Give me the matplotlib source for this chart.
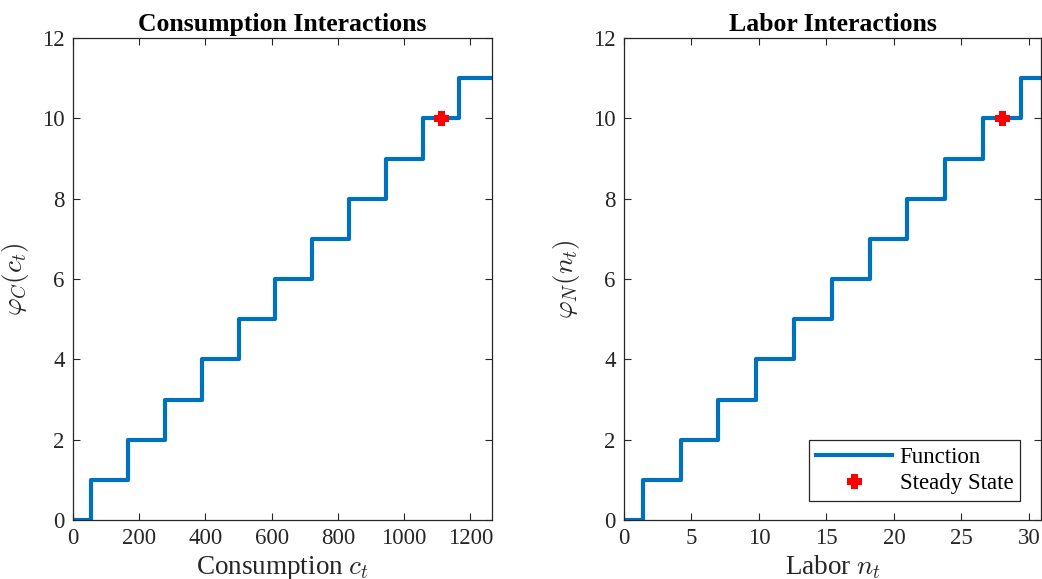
import matplotlib
matplotlib.use("Agg")
import matplotlib.pyplot as plt
import numpy as np

# Data: step thresholds and levels
cons_breaks = [0, 55.6, 166.7, 277.8, 388.9, 500.0, 611.1, 722.2, 833.3, 944.4, 1055.6, 1166.7, 1265]
cons_levels = [0, 1, 2, 3, 4, 5, 6, 7, 8, 9, 10, 11, 11]
cons_ss = (1111.1, 10)

labor_breaks = [0, 1.4, 4.2, 7.0, 9.8, 12.6, 15.4, 18.2, 21.0, 23.8, 26.6, 29.4, 30.9]
labor_levels = [0, 1, 2, 3, 4, 5, 6, 7, 8, 9, 10, 11, 11]
labor_ss = (28.0, 10)

cons_xticks = [0, 200, 400, 600, 800, 1000, 1200]
labor_xticks = [0, 5, 10, 15, 20, 25, 30]
yticks = [0, 2, 4, 6, 8, 10, 12]

plt.rcParams['font.family'] = ['Liberation Serif', 'DejaVu Serif']
plt.rcParams['mathtext.fontset'] = 'cm'

W, H = 1042, 579
fig = plt.figure(figsize=(W / 100, H / 100), dpi=100)

blue = (0, 0.447, 0.741)
gray = '#262626'

def make_ax(l, r, t, b):
    return fig.add_axes([l / W, 1 - b / H, (r - l) / W, (b - t) / H])

ax1 = make_ax(73, 492, 38, 520)
ax2 = make_ax(624, 1041, 38, 520)

specs = [
    (ax1, cons_breaks, cons_levels, cons_ss, cons_xticks, 'Consumption Interactions',
     r'Consumption $c_t$', r'$\varphi_C(c_t)$', 1265),
    (ax2, labor_breaks, labor_levels, labor_ss, labor_xticks, 'Labor Interactions',
     r'Labor $n_t$', r'$\varphi_N(n_t)$', 30.9),
]

for ax, xb, lv, ss, xt, title, xl, yl, xmax in specs:
    ln, = ax.step(xb, lv, where='post', color=blue, linewidth=3, label='Function')
    mk, = ax.plot([ss[0]], [ss[1]], linestyle='none', marker='P', color='red',
                  markersize=8, markeredgewidth=2.2, markeredgecolor='red',
                  label='Steady State')
    mk.set_markeredgecolor('red')
    ax.set_xlim(0, xmax)
    ax.set_ylim(0, 12)
    ax.set_xticks(xt)
    ax.set_yticks(yticks)
    ax.tick_params(direction='in', top=True, right=True, labelsize=16.5,
                   colors=gray, length=5, width=0.8, pad=6)
    for s in ax.spines.values():
        s.set_color(gray)
        s.set_linewidth(0.9)
    ax.set_title(title, fontsize=18.5, fontweight='bold', pad=5)
    ax.set_xlabel(xl, fontsize=19.5, color=gray, labelpad=3)
    ax.set_ylabel(yl, fontsize=19.5, color=gray, labelpad=8)

leg = ax2.legend(handles=[ln, mk], loc='lower right', fontsize=16.5, frameon=True,
                 fancybox=False, edgecolor=gray, framealpha=1,
                 bbox_to_anchor=(0.95, 0.04), borderpad=0.3, handlelength=3.3,
                 handletextpad=0.35, labelspacing=0.2, borderaxespad=0)
leg.get_frame().set_linewidth(0.9)

fig.savefig('out.png', dpi=100)
